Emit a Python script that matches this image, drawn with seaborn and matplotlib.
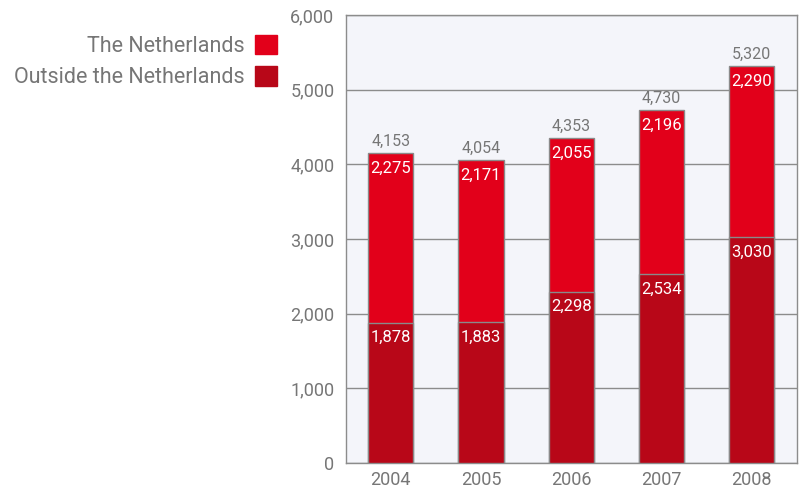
import pandas as pd
import matplotlib.pyplot as plt
import seaborn as sns
from matplotlib.ticker import MultipleLocator, FuncFormatter, FixedLocator

years = ['2004', '2005', '2006', '2007', '2008']
outside_nl = [1878, 1883, 2298, 2534, 3030]
netherlands = [2275, 2171, 2055, 2196, 2290]
totals = [4153, 4054, 4353, 4730, 5320]

red_nl = '#e2001a'
red_out = '#b80718'
grey_txt = '#767676'
edge = '#8a8a8a'

data = pd.DataFrame({'Year': years, 'Outside': outside_nl,
                     'Netherlands': netherlands, 'Total': totals})

sns.set_style('white')
plt.rcParams['font.family'] = ['Roboto', 'DejaVu Sans']

fig = plt.figure(figsize=(8, 4.91), dpi=100)
ax = fig.add_axes([0.432, 0.057, 0.564, 0.912])
ax.set_facecolor('#f4f5fa')

# stacked bars: total first, outside on top of it
sns.barplot(data=data, x='Year', y='Total', color=red_nl, width=0.5,
            edgecolor=edge, linewidth=1, saturation=1, ax=ax, zorder=3)
sns.barplot(data=data, x='Year', y='Outside', color=red_out, width=0.5,
            edgecolor=edge, linewidth=1, saturation=1, ax=ax, zorder=3)

for i in range(len(years)):
    ax.text(i, outside_nl[i] - 100, f'{outside_nl[i]:,}', ha='center', va='top',
            color='white', fontsize=12, zorder=5)
    ax.text(i, totals[i] - 100, f'{netherlands[i]:,}', ha='center', va='top',
            color='white', fontsize=12, zorder=5)
    ax.text(i, totals[i] + 60, f'{totals[i]:,}', ha='center', va='bottom',
            color=grey_txt, fontsize=11.5, zorder=5)

ax.set_ylim(0, 6000)
ax.set_xlim(-0.5, len(years) - 0.5)
ax.yaxis.set_major_locator(MultipleLocator(1000))
ax.yaxis.set_minor_locator(MultipleLocator(100))
ax.yaxis.set_major_formatter(FuncFormatter(lambda v, p: f'{int(v):,}'))
ax.yaxis.grid(True, which='major', color='#8c8c8c', linewidth=1, zorder=1)
ax.set_axisbelow(True)
ax.tick_params(axis='y', which='major', length=0, pad=8, labelsize=13, labelcolor=grey_txt)
ax.tick_params(axis='y', which='minor', direction='in', length=6, color='#9a9a9a', width=1)
ax.tick_params(axis='x', which='major', length=0, pad=6, labelsize=13, labelcolor=grey_txt)
ax.xaxis.set_minor_locator(FixedLocator([0.5, 1.5, 2.5, 3.5]))
ax.tick_params(axis='x', which='minor', direction='in', length=10, color='#9a9a9a', width=1)
ax.set_xlabel('')
ax.set_ylabel('')
for s in ax.spines.values():
    s.set_color('#8c8c8c')
    s.set_linewidth(1)

handles = [plt.Rectangle((0, 0), 1, 1, color=red_nl),
           plt.Rectangle((0, 0), 1, 1, color=red_out)]
fig.legend(handles, ['The Netherlands', 'Outside the Netherlands'],
           loc='upper right', bbox_to_anchor=(0.370, 0.969), frameon=False,
           markerfirst=False, handlelength=1.0, handleheight=1.0,
           handletextpad=0.5, labelspacing=0.45, fontsize=15.5, labelcolor=grey_txt)

plt.savefig('out.png', dpi=100)
